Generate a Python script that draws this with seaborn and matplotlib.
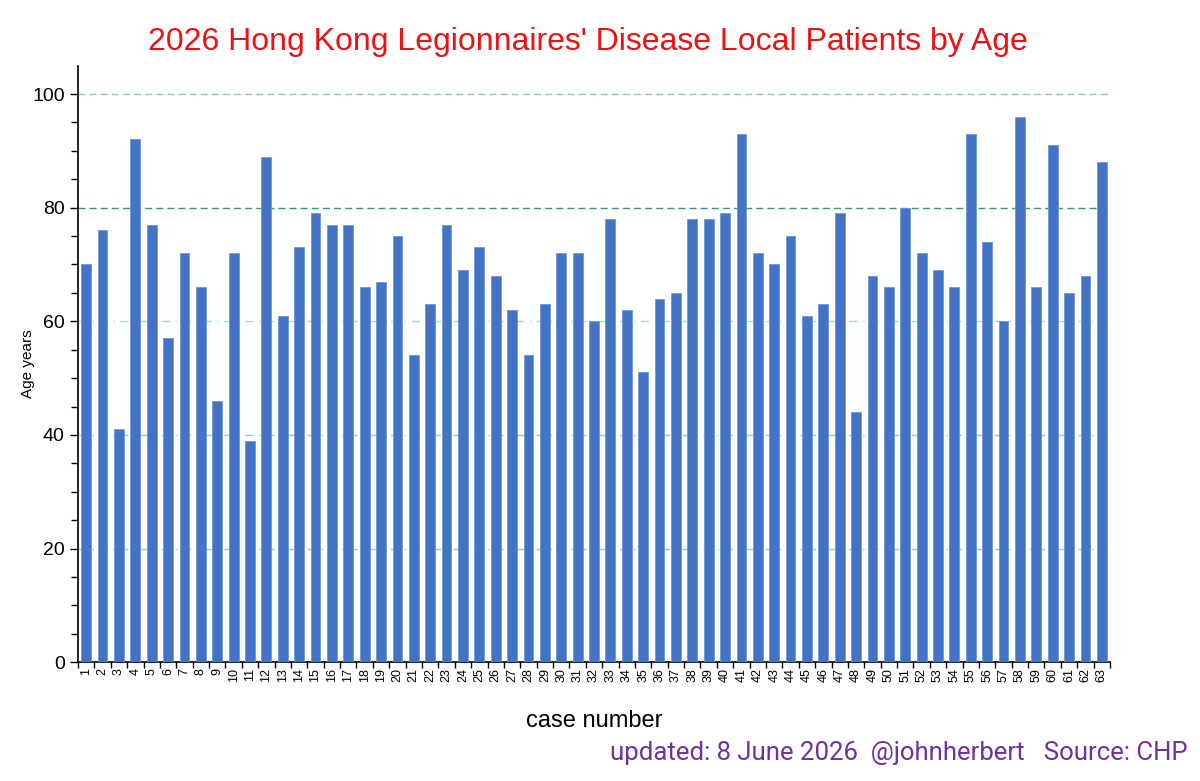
import numpy as np
import pandas as pd
import matplotlib
matplotlib.use("Agg")
import matplotlib.pyplot as plt
import seaborn as sns

# ---------------------------------------------------------------------------
# data
# ---------------------------------------------------------------------------
cases = [str(i) for i in range(1, 64)]
ages = [70, 76, 41, 92, 77, 57, 72, 66, 46, 72,
        39, 89, 61, 73, 79, 77, 77, 66, 67, 75,
        54, 63, 77, 69, 73, 68, 62, 54, 63, 72,
        72, 60, 78, 62, 51, 64, 65, 78, 78, 79,
        93, 72, 70, 75, 61, 63, 79, 44, 68, 66,
        80, 72, 69, 66, 93, 74, 60, 96, 66, 91,
        65, 68, 88]

title = "2026 Hong Kong Legionnaires' Disease Local Patients by Age"
footer = "updated: 8 June 2026  @johnherbert   Source: CHP"

df = pd.DataFrame({"case": cases, "age": ages})

sns.set_style("white", {"text.color": "black", "axes.labelcolor": "black",
                        "xtick.color": "black", "ytick.color": "black"})
plt.rcParams["font.family"] = ["Liberation Sans", "DejaVu Sans"]

fig = plt.figure(figsize=(12, 7.81), dpi=100)
ax = fig.add_axes([0.065, 0.152, 0.86, 0.764])

sns.barplot(data=df, x="case", y="age", color="#4472C4", saturation=1,
            width=0.6, edgecolor="#6f95d8", linewidth=0.6, ax=ax, zorder=3)

ax.set_xlim(-0.5, len(cases) - 0.5)
ax.set_ylim(0, 105)

# y ticks: major every 20, minor every 5
ax.set_yticks(np.arange(0, 101, 20))
ax.set_yticks(np.arange(0, 105, 5), minor=True)
ax.tick_params(axis="y", which="major", length=6, width=1, labelsize=14,
               direction="out", color="black", left=True)
ax.tick_params(axis="y", which="minor", length=5, width=1,
               direction="out", color="black", left=True)

# x ticks between categories
ax.set_xticks(np.arange(-0.5, len(cases), 1), minor=True)
ax.tick_params(axis="x", which="minor", length=4, width=1, direction="out",
               color="black", bottom=True)
ax.tick_params(axis="x", which="major", length=0, labelsize=9, pad=4)
plt.setp(ax.get_xticklabels(), rotation=90)

# dashed green gridlines
grid_cols = {20: "#8fd0b6", 40: "#8fd0b6", 60: "#a9dccb", 80: "#2e9e6b", 100: "#7fd0ae"}
for yv, col in grid_cols.items():
    ax.axhline(yv, color=col, lw=1, ls=(0, (6, 4, 1, 4)) if yv in (20, 40, 60) else (0, (5, 3)),
               zorder=1)

for s in ["top", "right"]:
    ax.spines[s].set_visible(False)
for s in ["left", "bottom"]:
    ax.spines[s].set_color("black")
    ax.spines[s].set_linewidth(1.2)

ax.set_ylabel("Age years", fontsize=11, labelpad=-2)
ax.set_xlabel("case number", fontsize=17, labelpad=20)

fig.text(0.49, 0.946, title, color="#ee1111", fontsize=23, ha="center", va="center")
fig.text(0.99, 0.036, footer, color="#7030a0", fontsize=18.5, ha="right", va="center",
         family=["Roboto", "DejaVu Sans"])

fig.savefig("out.png", dpi=100, facecolor="white")
